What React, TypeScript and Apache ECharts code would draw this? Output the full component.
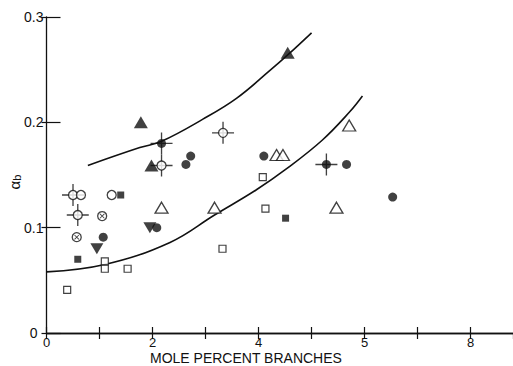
import React, { useEffect, useRef } from "react";
import * as echarts from "echarts";

// ---- data (x: mole percent branches, y: alpha_b) ----
const xTickLabels: Record<number, string> = { 0: "0", 2: "2", 4: "4", 6: "5", 8: "8" };
const yTickLabels: Record<string, string> = { "0": "{z|0}", "0.1": "0.1", "0.2": "0.2", "0.3": "0.3" };

const upperCurve = [
  [0.78, 0.159], [1.76, 0.176], [2.17, 0.182], [2.95, 0.203], [3.59, 0.223],
  [4.21, 0.249], [4.55, 0.264], [5.0, 0.285],
];
const lowerCurve = [
  [0.0, 0.058], [1.1, 0.065], [2.33, 0.086], [3.17, 0.112], [3.96, 0.136],
  [4.53, 0.156], [5.2, 0.183], [5.72, 0.21], [5.96, 0.225],
];

const errorCrosses = [
  [0.5, 0.131], [0.59, 0.112], [2.17, 0.18], [2.17, 0.159], [3.33, 0.19], [5.28, 0.16],
];
const openCircles = [
  [0.5, 0.131], [0.65, 0.131], [0.59, 0.112], [1.23, 0.131], [2.17, 0.159], [3.33, 0.19],
];
const filledCircles = [
  [1.07, 0.091], [2.08, 0.1], [2.17, 0.18], [2.63, 0.16], [2.72, 0.168],
  [4.1, 0.168], [5.28, 0.16], [5.66, 0.16], [6.53, 0.129],
];
const crossedCircles = [[0.57, 0.091], [1.05, 0.111]];
const filledTriangles = [[1.78, 0.2], [1.98, 0.159], [4.55, 0.266]];
const openTriangles = [
  [2.17, 0.119], [3.17, 0.119], [4.34, 0.169], [4.46, 0.169], [5.47, 0.119], [5.71, 0.197],
];
const downTriangles = [[0.95, 0.08], [1.95, 0.1]];
const filledSquares = [[0.59, 0.07], [1.4, 0.131], [4.51, 0.109]];
const openSquares = [
  [0.39, 0.041], [1.1, 0.068], [1.1, 0.061], [1.53, 0.061], [3.32, 0.08], [4.08, 0.148], [4.13, 0.118],
];

const PLUS = "path://M0,9.4 H20 V10.6 H0 Z M9.4,0 H10.6 V20 H9.4 Z";
const XMARK = "path://M1.2,0 L10,8.8 L8.8,10 L0,1.2 Z M8.8,0 L10,1.2 L1.2,10 L0,8.8 Z";

const FONT = "Liberation Sans";

export default function App() {
  const ref = useRef<HTMLDivElement>(null);
  useEffect(() => {
    if (!ref.current) return;
    const chart = echarts.init(ref.current, undefined, { renderer: "svg" });
    const black = "#111";
    const openStyle = { color: "#fff", borderColor: black, borderWidth: 1.3 };
    const scatter = (data: number[][], symbol: string, size: any, itemStyle: any, z: number, extra: any = {}) => ({
      type: "scatter",
      data,
      symbol,
      symbolSize: size,
      itemStyle,
      z,
      silent: true,
      ...extra,
    });
    chart.setOption({
      animation: false,
      backgroundColor: "#fff",
      grid: { left: 46.5, right: -1, top: 17, bottom: 33 },
      xAxis: [
        {
          type: "value",
          min: 0,
          max: 8.8,
          interval: 1,
          position: "bottom",
          axisLine: { show: true, lineStyle: { color: black, width: 1.3 } },
          axisTick: { show: true, inside: true, length: 6, lineStyle: { color: black, width: 1.2 } },
          axisLabel: {
            color: black,
            fontFamily: FONT,
            fontSize: 13,
            lineHeight: 13,
            margin: 3,
            showMaxLabel: false,
            formatter: (v: number) => xTickLabels[Math.round(v)] ?? "",
          },
          splitLine: { show: false },
        },
        {
          type: "value",
          min: 0,
          max: 8.8,
          interval: 1,
          position: "top",
          axisLine: { show: true, lineStyle: { color: black, width: 1.3 } },
          axisTick: { show: true, inside: true, length: 6, lineStyle: { color: black, width: 1.2 } },
          axisLabel: { show: false },
          splitLine: { show: false },
        },
      ],
      yAxis: [
        {
          type: "value",
          min: 0,
          max: 0.3,
          interval: 0.1,
          position: "left",
          axisLine: { show: true, lineStyle: { color: black, width: 1.3 } },
          axisTick: { show: true, inside: true, length: 14, lineStyle: { color: black, width: 1.2 } },
          axisLabel: {
            color: black,
            fontFamily: FONT,
            fontSize: 14,
            margin: 3,
            formatter: (v: number) => yTickLabels[String(Math.round(v * 10) / 10)] ?? "",
            rich: { z: { fontFamily: FONT, fontSize: 14, color: black, padding: [0, 6, 0, 0] } },
          },
          splitLine: { show: false },
        },
        {
          type: "value",
          min: 0,
          max: 0.3,
          interval: 0.1,
          position: "right",
          axisLine: { show: false },
          axisTick: { show: true, inside: true, length: 5, lineStyle: { color: black, width: 1.2 } },
          axisLabel: { show: false },
          splitLine: { show: false },
        },
      ],
      graphic: [
        {
          type: "text",
          left: 150,
          top: 351,
          style: { text: "MOLE PERCENT BRANCHES", fontFamily: FONT, fontSize: 14, lineHeight: 14, fill: black },
        },
        {
          type: "text",
          x: 14,
          y: 182,
          rotation: Math.PI / 2,
          style: {
            text: "{a|α}{b|b}",
            align: "center",
            verticalAlign: "middle",
            rich: {
              a: { fontFamily: FONT, fontSize: 15, fill: black },
              b: { fontFamily: FONT, fontSize: 11, fill: black, padding: [6, 0, 0, 0] },
            },
          },
        },
      ],
      series: [
        {
          type: "line",
          data: upperCurve,
          smooth: 0.4,
          showSymbol: false,
          lineStyle: { color: black, width: 1.6 },
          z: 1,
          silent: true,
        },
        {
          type: "line",
          data: lowerCurve,
          smooth: 0.4,
          showSymbol: false,
          lineStyle: { color: black, width: 1.6 },
          z: 1,
          silent: true,
        },
        scatter(errorCrosses, PLUS, 22, { color: black }, 2),
        scatter(openCircles, "circle", 9, openStyle, 3),
        scatter(filledCircles, "circle", 9, { color: black }, 4),
        scatter(crossedCircles, "circle", 9, openStyle, 3),
        scatter(crossedCircles, XMARK, 5, { color: black }, 4),
        scatter(filledTriangles, "triangle", [14, 12], { color: black }, 4),
        scatter(openTriangles, "triangle", [13, 11], openStyle, 4),
        scatter(downTriangles, "triangle", [13, 11], { color: black }, 4, { symbolRotate: 180 }),
        scatter(filledSquares, "rect", 7, { color: black }, 4),
        scatter(openSquares, "rect", 7, { color: "#fff", borderColor: black, borderWidth: 1.2 }, 4),
      ],
    });
    return () => chart.dispose();
  }, []);
  return (
    <div
      ref={ref}
      style={{ position: "fixed", left: 0, top: 0, width: 513, height: 366, background: "#fff" }}
    />
  );
}
